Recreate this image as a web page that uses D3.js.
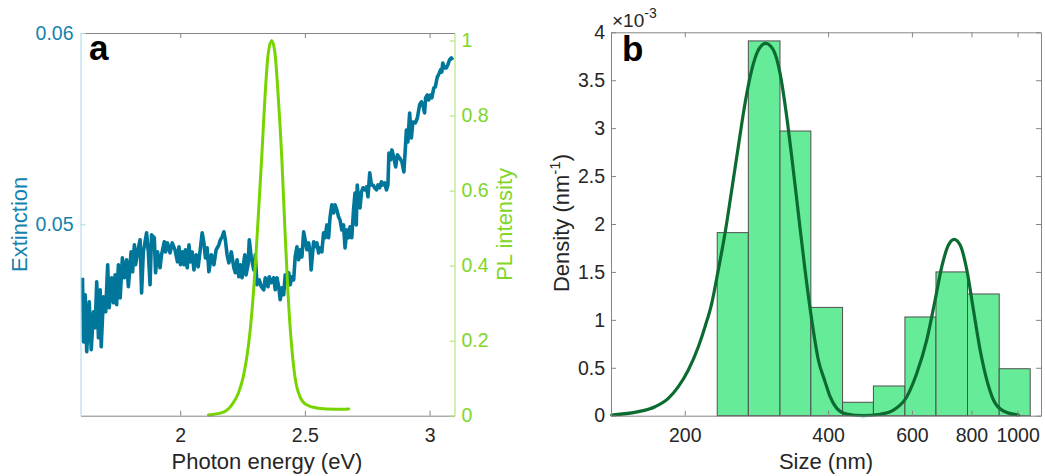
<!DOCTYPE html>
<html>
<head>
<meta charset="utf-8">
<script src="https://cdn.jsdelivr.net/npm/d3@7"></script>
<style>
  body { margin: 0; background: #fff; }
  svg { display: block; font-family: "Liberation Sans", Arial, Helvetica, sans-serif; }
</style>
</head>
<body>
<svg id="fig" width="1045" height="476"></svg>
<script>
// ---------- Panel a: extinction and photoluminescence spectra ----------
const energy = [
  1.608,1.612,1.619,1.625,1.635,1.643,1.652,1.659,1.665,1.672,
  1.679,1.683,1.692,1.701,1.709,1.715,1.725,1.732,1.739,1.745,
  1.752,1.759,1.768,1.776,1.785,1.792,1.803,1.809,1.816,1.821,
  1.832,1.839,1.845,1.852,1.859,1.865,1.872,1.879,1.885,1.896,
  1.901,1.909,1.919,1.925,1.936,1.941,1.949,1.959,1.968,1.979,
  1.989,
  1.995,2.001,2.008,2.015,2.021,2.028,2.035,2.041,2.048,2.055,
  2.064,2.072,2.081,2.088,2.095,2.101,2.108,2.115,2.125,2.135,
  2.144,2.155,2.161,2.168,2.175,2.181,2.188,2.195,2.205,2.215,
  2.221,2.228,2.235,2.241,2.248,2.255,2.259,2.264,2.272,2.277,
  2.285,2.295,2.301,2.308,2.317,2.325,2.335,2.341,2.352,2.357,
  2.365,2.375,2.381,2.388,2.395,2.401,2.408,2.415,2.421,2.428,
  2.435,2.441,2.448,2.455,2.461,2.468,2.475,2.481,2.488,2.495,
  2.501,2.508,2.515,2.521,2.525,2.535,2.541,2.548,2.555,2.561,
  2.568,2.575,2.581,2.588,2.595,2.601,2.608,2.615,2.621,2.628,
  2.635,2.641,2.648,2.655,2.661,2.668,2.675,2.681,2.688,2.695,
  2.701,2.706,2.710,2.716,2.721,2.727,2.733,2.740,2.747,2.753,
  2.760,2.767,2.773,2.780,2.787,2.793,2.800,2.807,2.813,2.820,
  2.827,2.833,2.837,2.844,2.849,2.857,2.864,2.871,2.880,2.889,
  2.897,2.903,2.907,2.913,2.920,2.927,2.933,2.943,2.951,2.960,
  2.967,2.973,2.980,2.984,2.991,2.996,3.004,3.009,3.017,3.023,
  3.031,3.036,3.044,3.049,3.053,3.060,3.067,3.073,3.080,3.087,
  3.093
];
const extinction = [
  0.04721,0.04386,0.04632,0.04334,0.04595,0.04345,0.04543,0.04460,0.04700,0.04407,
  0.04658,0.04360,0.04621,0.04543,0.04789,0.04564,0.04721,0.04590,0.04736,0.04580,
  0.04789,0.04616,0.04825,0.04721,0.04815,0.04674,0.04856,0.04752,0.04893,0.04789,
  0.04877,0.04919,0.04642,0.04856,0.04909,0.04956,0.04856,0.04684,0.04945,0.04930,
  0.04747,0.04856,0.04773,0.04841,0.04909,0.04856,0.04903,0.04851,0.04903,0.04867,
  0.04804,
  0.04883,0.04789,0.04856,0.04789,0.04867,0.04773,0.04893,0.04804,0.04856,0.04762,
  0.04841,0.04778,0.04877,0.04956,0.04903,0.04825,0.04877,0.04752,0.04841,0.04789,
  0.04867,0.04893,0.04919,0.04935,0.04961,0.04919,0.04841,0.04799,0.04856,0.04773,
  0.04747,0.04815,0.04726,0.04789,0.04721,0.04804,0.04841,0.04736,0.04789,0.04919,
  0.04825,0.04762,0.04841,0.04684,0.04710,0.04674,0.04658,0.04721,0.04674,0.04726,
  0.04695,0.04721,0.04658,0.04721,0.04674,0.04606,0.04668,0.04632,0.04736,0.04695,
  0.04747,0.04684,0.04726,0.04710,0.04830,0.04883,0.04815,0.04867,0.04830,0.04961,
  0.04919,0.04867,0.04903,0.04856,0.04762,0.04909,0.04883,0.04903,0.04851,0.04877,
  0.04856,0.04956,0.04930,0.04997,0.04930,0.05039,0.05102,0.05060,0.05102,0.05076,
  0.05039,0.05023,0.04971,0.04997,0.04877,0.04971,0.04930,0.04987,0.04930,0.05076,
  0.05164,0.04997,0.05206,0.05112,0.05086,0.05170,0.05191,0.05180,0.05196,0.05144,
  0.05269,0.05206,0.05206,0.05191,0.05180,0.05206,0.05191,0.05222,0.05206,0.05217,
  0.05180,0.05206,0.05373,0.05337,0.05389,0.05347,0.05300,0.05363,0.05347,0.05326,
  0.05274,0.05400,0.05493,0.05431,0.05582,0.05452,0.05535,0.05530,0.05556,0.05624,
  0.05640,0.05624,0.05582,0.05661,0.05676,0.05650,0.05676,0.05661,0.05713,0.05718,
  0.05770,0.05781,0.05807,0.05796,0.05843,0.05817,0.05817,0.05833,0.05859,0.05870,
  0.05859
];
const plEnergy = [
  2.113,2.167,2.207,2.233,2.253,2.273,2.287,2.300,2.313,2.327,2.340,2.353,2.367,
  2.380,2.393,2.407,2.420,2.433,2.447,2.460,2.480,2.507,2.553,2.620,2.676
];
const plIntensity = [
  0.002,0.008,0.029,0.060,0.104,0.184,0.273,0.389,0.531,0.691,0.851,0.966,1.000,
  0.966,0.851,0.691,0.495,0.317,0.184,0.104,0.051,0.029,0.020,0.017,0.018
];
const energyTicks = [2, 2.5, 3];
const extinctionTicks = [0.05, 0.06];
const plTicks = [0, 0.2, 0.4, 0.6, 0.8, 1];

// ---------- Panel b: size distribution (density in 1e-3 nm^-1) ----------
const binEdges = [234, 272, 317, 368, 429, 498, 580, 674, 785, 915, 1063];
const binDensity = [1.91, 3.91, 2.97, 1.13, 0.14, 0.31, 1.03, 1.50, 1.27, 0.49];
const fitSize = [
  140.5,159.8,173.3,184.7,193.9,203.5,213.6,220.6,227.9,235.2,
  243.0,251.0,259.1,267.7,276.5,285.5,295.9,307.0,317.1,327.5,
  335.5,346.4,357.8,369.6,381.6,394.2,403.9,417.2,437.9,474.4,
  514.3,548.7,585.3,614.2,644.6,671.2,693.2,715.8,735.9,757.5,
  782.5,807.8,834.4,861.9,890.0,934.0,1004
];
const fitDensity = [
  0.007,0.042,0.094,0.181,0.303,0.477,0.720,0.929,1.173,1.520,
  1.903,2.355,2.806,3.259,3.607,3.815,3.885,3.815,3.572,3.119,
  2.702,2.112,1.520,0.998,0.581,0.355,0.198,0.077,0.018,0.000,
  0.015,0.059,0.198,0.442,0.790,1.207,1.555,1.781,1.840,1.781,
  1.520,1.103,0.685,0.372,0.164,0.049,0.007
];
const sizeTicks = [200, 400, 600, 800, 1000];
const densityTicks = [0, 0.5, 1, 1.5, 2, 2.5, 3, 3.5, 4];

// ---------- shared styling ----------
const FONT = '"Liberation Sans", Arial, Helvetica, sans-serif';
const TICK_FS = 19.5, LABEL_FS = 22;
const TEXT = '#262626', BOX = '#858585';
const EXT_LINE = '#00769b', EXT_TEXT = '#1482ad', EXT_AXIS = '#a9d6e6';
const PL_LINE = '#77d400', PL_TEXT = '#80d629', PL_AXIS = '#a6e36a';

const svg = d3.select('#fig');
svg.append('rect').attr('width', 1045).attr('height', 476).attr('fill', '#fff');

function styleAxis(g, lineColor, textColor) {
  g.attr('font-family', FONT).attr('font-size', TICK_FS);
  g.select('.domain').attr('stroke', lineColor).attr('stroke-width', 1);
  g.selectAll('.tick line').attr('stroke', lineColor).attr('stroke-width', 1);
  g.selectAll('.tick text').attr('fill', textColor);
  return g;
}
const noLabels = () => '';

// ================= Panel a =================
const A = { l: 80.5, r: 454.5, t: 33, b: 415.7 };
const xA = d3.scaleLinear().domain([1.6, 3.1]).range([A.l, A.r]);
const yExt = d3.scaleLinear().domain([0.04, 0.06]).range([A.b, A.t]);
const yPL = d3.scaleLinear().domain([0, 1.02]).range([A.b, A.t]);

svg.append('clipPath').attr('id', 'clipA').append('rect')
  .attr('x', A.l).attr('y', A.t - 3).attr('width', A.r - A.l).attr('height', A.b - A.t + 6);

const pa = svg.append('g');
const extPts = d3.zip(energy, extinction);
pa.append('path')
  .datum(extPts)
  .attr('clip-path', 'url(#clipA)')
  .attr('fill', 'none')
  .attr('stroke', EXT_LINE)
  .attr('stroke-width', 3.6)
  .attr('stroke-linejoin', 'round')
  .attr('d', d3.line().x(d => xA(d[0])).y(d => yExt(d[1])));

const plPts = d3.zip(plEnergy, plIntensity);
pa.append('path')
  .datum(plPts)
  .attr('clip-path', 'url(#clipA)')
  .attr('fill', 'none')
  .attr('stroke', PL_LINE)
  .attr('stroke-width', 3)
  .attr('stroke-linecap', 'round')
  .attr('d', d3.line().curve(d3.curveMonotoneX).x(d => xA(d[0])).y(d => yPL(d[1])));

// axes of panel a
styleAxis(pa.append('g').attr('transform', `translate(0,${A.b})`)
  .call(d3.axisBottom(xA).tickValues(energyTicks).tickSize(-5).tickSizeOuter(0)
    .tickPadding(12).tickFormat(d3.format(''))), BOX, TEXT);
styleAxis(pa.append('g').attr('transform', `translate(0,${A.t})`)
  .call(d3.axisTop(xA).tickValues(energyTicks).tickSize(-5).tickSizeOuter(0)
    .tickFormat(noLabels)), BOX, TEXT);
styleAxis(pa.append('g').attr('transform', `translate(${A.l},0)`)
  .call(d3.axisLeft(yExt).tickValues(extinctionTicks).tickSize(-5).tickSizeOuter(0)
    .tickPadding(7).tickFormat(d3.format('.2f'))), EXT_AXIS, EXT_TEXT);
styleAxis(pa.append('g').attr('transform', `translate(${A.r},0)`)
  .call(d3.axisRight(yPL).tickValues(plTicks).tickSize(-5).tickSizeOuter(0)
    .tickPadding(7).tickFormat(d3.format(''))), PL_AXIS, PL_TEXT);

pa.append('text')
  .attr('x', (A.l + A.r) / 2 - 0.5).attr('y', 469)
  .attr('text-anchor', 'middle').attr('font-size', LABEL_FS).attr('fill', TEXT)
  .text('Photon energy (eV)');
pa.append('text')
  .attr('transform', `translate(27,${(A.t + A.b) / 2}) rotate(-90)`)
  .attr('text-anchor', 'middle').attr('font-size', LABEL_FS).attr('fill', EXT_TEXT)
  .text('Extinction');
pa.append('text')
  .attr('transform', `translate(512,${(A.t + A.b) / 2}) rotate(-90)`)
  .attr('text-anchor', 'middle').attr('font-size', LABEL_FS).attr('fill', PL_TEXT)
  .text('PL intensity');
pa.append('text')
  .attr('x', 89).attr('y', 60)
  .attr('font-size', 35).attr('font-weight', 'bold').attr('fill', '#000')
  .text('a');

// ================= Panel b =================
const B = { l: 611, r: 1041, t: 32.3, b: 415.7 };
const xB = d3.scaleLog().domain([140, 1120]).range([B.l, B.r]);
const yB = d3.scaleLinear().domain([0, 4]).range([B.b, B.t]);

const pb = svg.append('g');
pb.selectAll('rect.bin')
  .data(binDensity)
  .join('rect')
  .attr('class', 'bin')
  .attr('x', (d, i) => xB(binEdges[i]))
  .attr('width', (d, i) => xB(binEdges[i + 1]) - xB(binEdges[i]))
  .attr('y', d => yB(d))
  .attr('height', d => yB(0) - yB(d))
  .attr('fill', '#66ec98')
  .attr('stroke', '#4f4f4f')
  .attr('stroke-width', 1);

pb.append('path')
  .datum(d3.zip(fitSize, fitDensity))
  .attr('fill', 'none')
  .attr('stroke', '#0c6b31')
  .attr('stroke-width', 3.2)
  .attr('stroke-linecap', 'round')
  .attr('d', d3.line().curve(d3.curveMonotoneX).x(d => xB(d[0])).y(d => yB(d[1])));

styleAxis(pb.append('g').attr('transform', `translate(0,${B.b})`)
  .call(d3.axisBottom(xB).tickValues(sizeTicks).tickSize(-5).tickSizeOuter(0)
    .tickPadding(12).tickFormat(d3.format('d'))), BOX, TEXT);
styleAxis(pb.append('g').attr('transform', `translate(0,${B.t})`)
  .call(d3.axisTop(xB).tickValues(sizeTicks).tickSize(-5).tickSizeOuter(0)
    .tickFormat(noLabels)), BOX, TEXT);
styleAxis(pb.append('g').attr('transform', `translate(${B.l},0)`)
  .call(d3.axisLeft(yB).tickValues(densityTicks).tickSize(-5).tickSizeOuter(0)
    .tickPadding(6).tickFormat(d3.format(''))), BOX, TEXT);
styleAxis(pb.append('g').attr('transform', `translate(${B.r},0)`)
  .call(d3.axisRight(yB).tickValues(densityTicks).tickSize(-5).tickSizeOuter(0)
    .tickFormat(noLabels)), BOX, TEXT);

// exponent marker above the density axis
const expo = pb.append('text').attr('x', 612).attr('y', 27)
  .attr('font-size', 19).attr('fill', TEXT);
expo.append('tspan').text('\u00d710');
expo.append('tspan').attr('dy', -9).attr('font-size', 14).text('-3');

pb.append('text')
  .attr('x', 826).attr('y', 469)
  .attr('text-anchor', 'middle').attr('font-size', LABEL_FS).attr('fill', TEXT)
  .text('Size (nm)');
const dl = pb.append('text')
  .attr('transform', `translate(569,${(B.t + B.b) / 2 - 1}) rotate(-90)`)
  .attr('text-anchor', 'middle').attr('font-size', LABEL_FS).attr('fill', TEXT);
dl.append('tspan').text('Density (nm');
dl.append('tspan').attr('dy', -9).attr('font-size', 15).text('-1');
dl.append('tspan').attr('dy', 9).text(')');
pb.append('text')
  .attr('x', 622).attr('y', 61)
  .attr('font-size', 35).attr('font-weight', 'bold').attr('fill', '#000')
  .text('b');
</script>
</body>
</html>
